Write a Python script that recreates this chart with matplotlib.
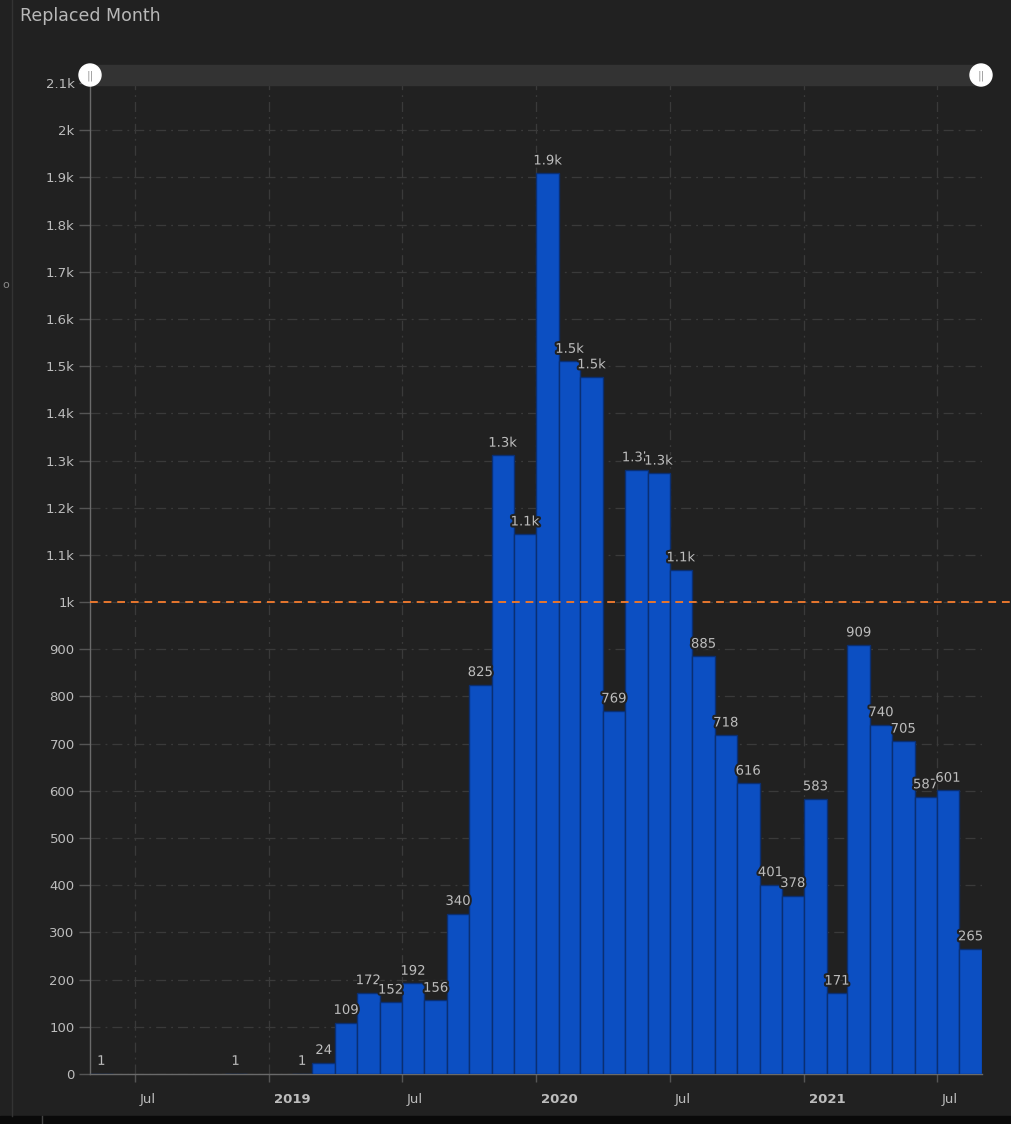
import matplotlib
matplotlib.use("Agg")
import matplotlib.pyplot as plt
import matplotlib.dates as mdates
import matplotlib.patheffects as pe
import matplotlib.transforms as mtrans
from matplotlib.patches import Rectangle, Circle
from matplotlib.ticker import MultipleLocator, FuncFormatter
import pandas as pd

# monthly counts, May 2018 .. Aug 2021
months = pd.date_range("2018-05-01", "2021-08-01", freq="MS")
counts = [1, 0, 0, 0, 0, 0, 1, 0,          # May-Dec 2018
          0, 1, 24, 109, 172, 152, 192, 156, 340, 825, 1311, 1144,   # 2019
          1909, 1510, 1477, 769, 1280, 1273, 1068, 885, 718, 616, 401, 378,  # 2020
          583, 171, 909, 740, 705, 587, 601, 265]   # 2021
target = 1000

BG = "#212121"
TXT = "#bdbdbd"
GRID = "#3a3a3a"
BAR = "#0c4fc2"

W, H = 1011, 1124
fig = plt.figure(figsize=(W / 100, H / 100), dpi=100, facecolor=BG)

def px(x0, y0, x1, y1):
    # pixel box (top-left origin) -> figure fraction rect
    return [x0 / W, 1 - y1 / H, (x1 - x0) / W, (y1 - y0) / H]

ax = fig.add_axes(px(90, 83, 982, 1074))
ax.set_facecolor(BG)

starts = mdates.date2num(months.to_pydatetime())
ends = mdates.date2num((months + pd.offsets.MonthBegin(1)).to_pydatetime())
widths = ends - starts
for s, w, c in zip(starts, widths, counts):
    if c == 0:
        continue
    ax.bar(s, c, width=w, align="edge", color=BAR, edgecolor="#0a2f73",
           linewidth=1.0, zorder=3)
    lab = f"{c / 1000:.1f}k" if c >= 1000 else str(c)
    ax.text(s + w / 2, c + 12, lab, ha="center", va="bottom", color=TXT,
            fontsize=9.5, zorder=5,
            path_effects=[pe.withStroke(linewidth=3, foreground=BG)])

ax.set_xlim(starts[0], ends[-1])
ax.set_ylim(0, 2100)

# target line runs past the plot edge
ax.axhline(target, color="#e8772e", linestyle=(0, (4, 3)), linewidth=1.4,
           zorder=4, xmax=1.04, clip_on=False)

ax.yaxis.set_major_locator(MultipleLocator(100))
def yfmt(v, pos):
    if v < 1000:
        return f"{int(v)}"
    if v % 1000 == 0:
        return f"{int(v // 1000)}k"
    return f"{v / 1000:.1f}k"
ax.yaxis.set_major_formatter(FuncFormatter(yfmt))

ax.xaxis.set_major_locator(mdates.MonthLocator(bymonth=(1, 7)))
ax.xaxis.set_major_formatter(FuncFormatter(
    lambda v, pos: mdates.num2date(v).strftime("%Y" if mdates.num2date(v).month == 1 else "%b")))

ax.tick_params(axis="y", colors="#555555", labelcolor=TXT, labelsize=9.5,
               length=8, width=1, pad=3)
ax.tick_params(axis="x", colors="#555555", labelcolor=TXT, labelsize=9.5,
               length=6, width=1, pad=8)
shift = mtrans.ScaledTranslation(5 / 100, 0, fig.dpi_scale_trans)
for lbl in ax.get_xticklabels():
    lbl.set_horizontalalignment("left")
    lbl.set_transform(lbl.get_transform() + shift)
    if lbl.get_text().isdigit():
        lbl.set_fontweight("bold")

ax.grid(True, color=GRID, linestyle=(0, (8, 4, 1.5, 4)), linewidth=0.9, zorder=0)
ax.set_axisbelow(True)
for side in ("top", "right"):
    ax.spines[side].set_visible(False)
for side in ("left", "bottom"):
    ax.spines[side].set_color("#6a6a6a")
    ax.spines[side].set_linewidth(1)

# overlay in pixel coords for title, slider and panel chrome
ov = fig.add_axes([0, 0, 1, 1], facecolor="none")
ov.set_xlim(0, W)
ov.set_ylim(H, 0)
ov.axis("off")
ov.text(20, 16, "Replaced Month", color="#b8b8b8", fontsize=12.5,
        ha="left", va="center")
ov.add_patch(Rectangle((90, 65), 892, 20, color="#333333", zorder=1))
for cx in (90, 981):
    ov.add_patch(Circle((cx, 75), 11, color="white", zorder=2))
    ov.text(cx, 75.5, "||", color="#9a9a9a", fontsize=8, ha="center",
            va="center", zorder=3)
ov.plot([12, 12], [0, 1116], color="#333333", lw=1)
ov.add_patch(Rectangle((0, 1116), W, 8, color="#0a0a0a", zorder=1))
ov.plot([42, 42], [1116, 1124], color="#444444", lw=1, zorder=2)
ov.text(2, 285, "o", color="#8a8a8a", fontsize=8, ha="left", va="center")

fig.savefig("out.png", dpi=100, facecolor=BG)
